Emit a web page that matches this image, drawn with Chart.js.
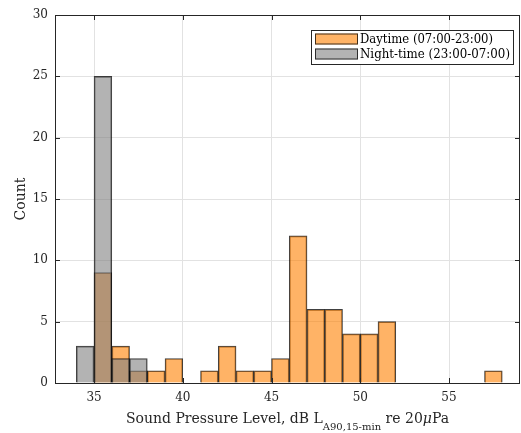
<!doctype html>
<html>
  <head>
    <meta charset="UTF-8">
    <title>SPL histogram</title>
    <script src="https://cdn.jsdelivr.net/npm/chart.js"></script>
    <style>
      body { margin: 0; background: #fff; }
    </style>
  </head>
  <body>
    <canvas id="hist" width="521" height="433"></canvas>
    <script>
      // histogram bins, 1 dB wide, left edges
      const binStarts = [34, 35, 36, 37, 38, 39, 40, 41, 42, 43, 44, 45,
                         46, 47, 48, 49, 50, 51, 52, 53, 54, 55, 56, 57];
      const dayCounts = [0, 9, 3, 1, 1, 2, 0, 1, 3, 1, 1, 2,
                         12, 6, 6, 4, 4, 5, 0, 0, 0, 0, 0, 1];
      const nightCounts = [3, 25, 2, 2, 0, 0, 0, 0, 0, 0, 0, 0,
                           0, 0, 0, 0, 0, 0, 0, 0, 0, 0, 0, 0];
      const xTicks = [35, 40, 45, 50, 55];
      const yTicks = [0, 5, 10, 15, 20, 25, 30];
      const dayLabel = 'Daytime (07:00-23:00)';
      const nightLabel = 'Night-time (23:00-07:00)';

      const FONT = "'DejaVu Serif', serif";
      const dayFill = 'rgba(255, 128, 0, 0.6)';
      const nightFill = 'rgba(128, 128, 128, 0.6)';
      const edge = 'rgba(0, 0, 0, 0.75)';
      const axisColor = '#262626';

      function toPoints(counts) {
        return binStarts.map((b, i) => ({ x: b + 0.5, y: counts[i] || null }));
      }

      // frame, inward ticks, axis labels and legend, MATLAB style
      const matlabAxes = {
        id: 'matlabAxes',
        afterDraw(chart) {
          const { ctx, chartArea: a, scales } = chart;
          ctx.save();
          ctx.strokeStyle = axisColor;
          ctx.lineWidth = 1;
          ctx.strokeRect(Math.round(a.left) + 0.5, Math.round(a.top) + 0.5,
                         Math.round(a.right - a.left) - 1, Math.round(a.bottom - a.top));

          const tl = 5;
          ctx.beginPath();
          xTicks.forEach(v => {
            const px = Math.round(scales.x.getPixelForValue(v)) + 0.5;
            ctx.moveTo(px, a.bottom); ctx.lineTo(px, a.bottom - tl);
            ctx.moveTo(px, a.top); ctx.lineTo(px, a.top + tl);
          });
          yTicks.forEach(v => {
            const py = Math.round(scales.y.getPixelForValue(v)) + 0.5;
            ctx.moveTo(a.left, py); ctx.lineTo(a.left + tl, py);
            ctx.moveTo(a.right, py); ctx.lineTo(a.right - tl, py);
          });
          ctx.stroke();

          // y label
          ctx.fillStyle = '#262626';
          ctx.save();
          ctx.translate(25, (a.top + a.bottom) / 2);
          ctx.rotate(-Math.PI / 2);
          ctx.font = `14px ${FONT}`;
          ctx.textAlign = 'center';
          ctx.textBaseline = 'alphabetic';
          ctx.fillText('Count', 0, 0, 44);
          ctx.restore();

          // x label with subscript
          const parts = [
            { t: 'Sound Pressure Level, dB L', f: `14px ${FONT}`, dy: 0 },
            { t: 'A90,15-min', f: `10px ${FONT}`, dy: 7 },
            { t: ' re 20', f: `14px ${FONT}`, dy: 0 },
            { t: 'μ', f: `italic 14px ${FONT}`, dy: 0 },
            { t: 'Pa', f: `14px ${FONT}`, dy: 0 }
          ];
          let total = 0;
          parts.forEach(p => { ctx.font = p.f; p.w = ctx.measureText(p.t).width; total += p.w; });
          const target = 331;
          const k = Math.min(1, target / total);
          let x = (a.left + a.right) / 2 - total * k / 2;
          ctx.textAlign = 'left';
          parts.forEach(p => {
            ctx.font = p.f;
            ctx.fillText(p.t, x, 423 + p.dy, p.w * k);
            x += p.w * k;
          });

          // legend
          const lx = 311, ly = 30, lw = 202, lh = 34;
          ctx.fillStyle = '#fff';
          ctx.fillRect(lx, ly, lw, lh);
          ctx.strokeStyle = axisColor;
          ctx.strokeRect(lx + 0.5, ly + 0.5, lw, lh);
          const rows = [
            { label: dayLabel, fill: dayFill, y: 33.5 },
            { label: nightLabel, fill: nightFill, y: 48.5 }
          ];
          rows.forEach(r => {
            ctx.fillStyle = '#fff';
            ctx.fillRect(315, r.y, 43, 11);
            ctx.fillStyle = r.fill;
            ctx.fillRect(315, r.y, 43, 11);
            ctx.strokeStyle = edge;
            ctx.strokeRect(315.5, r.y + 0.5, 42, 10);
            ctx.fillStyle = '#000';
            ctx.font = `12px ${FONT}`;
            ctx.textBaseline = 'alphabetic';
            ctx.fillText(r.label, 360, r.y + 9.5, r.label === dayLabel ? 133 : 150);
          });
          ctx.restore();
        }
      };

      new Chart(document.getElementById('hist'), {
        type: 'bar',
        data: {
          datasets: [
            {
              label: nightLabel,
              data: toPoints(nightCounts),
              backgroundColor: nightFill,
              borderColor: edge,
              borderWidth: 1,
              grouped: false,
              barPercentage: 1,
              categoryPercentage: 1
            },
            {
              label: dayLabel,
              data: toPoints(dayCounts),
              backgroundColor: dayFill,
              borderColor: edge,
              borderWidth: 1,
              grouped: false,
              barPercentage: 1,
              categoryPercentage: 1
            }
          ]
        },
        options: {
          responsive: false,
          animation: false,
          layout: { padding: { top: 15, right: 1, left: 0, bottom: 0 } },
          plugins: {
            legend: { display: false },
            tooltip: { enabled: false }
          },
          scales: {
            x: {
              type: 'linear',
              min: 32.8,
              max: 59,
              offset: false,
              afterBuildTicks: s => { s.ticks = xTicks.map(v => ({ value: v })); },
              afterFit: s => { s.height = 50; },
              grid: { color: '#e2e2e2', drawTicks: false, offset: false },
              border: { display: false },
              ticks: { color: '#262626', padding: 8, font: { family: FONT, size: 12 } }
            },
            y: {
              min: 0,
              max: 30,
              afterBuildTicks: s => { s.ticks = yTicks.map(v => ({ value: v })); },
              afterFit: s => { s.width = 55; },
              grid: { color: '#e2e2e2', drawTicks: false },
              border: { display: false },
              ticks: { color: '#262626', padding: 7, font: { family: FONT, size: 12 } }
            }
          }
        },
        plugins: [matlabAxes]
      });
    </script>
  </body>
</html>
